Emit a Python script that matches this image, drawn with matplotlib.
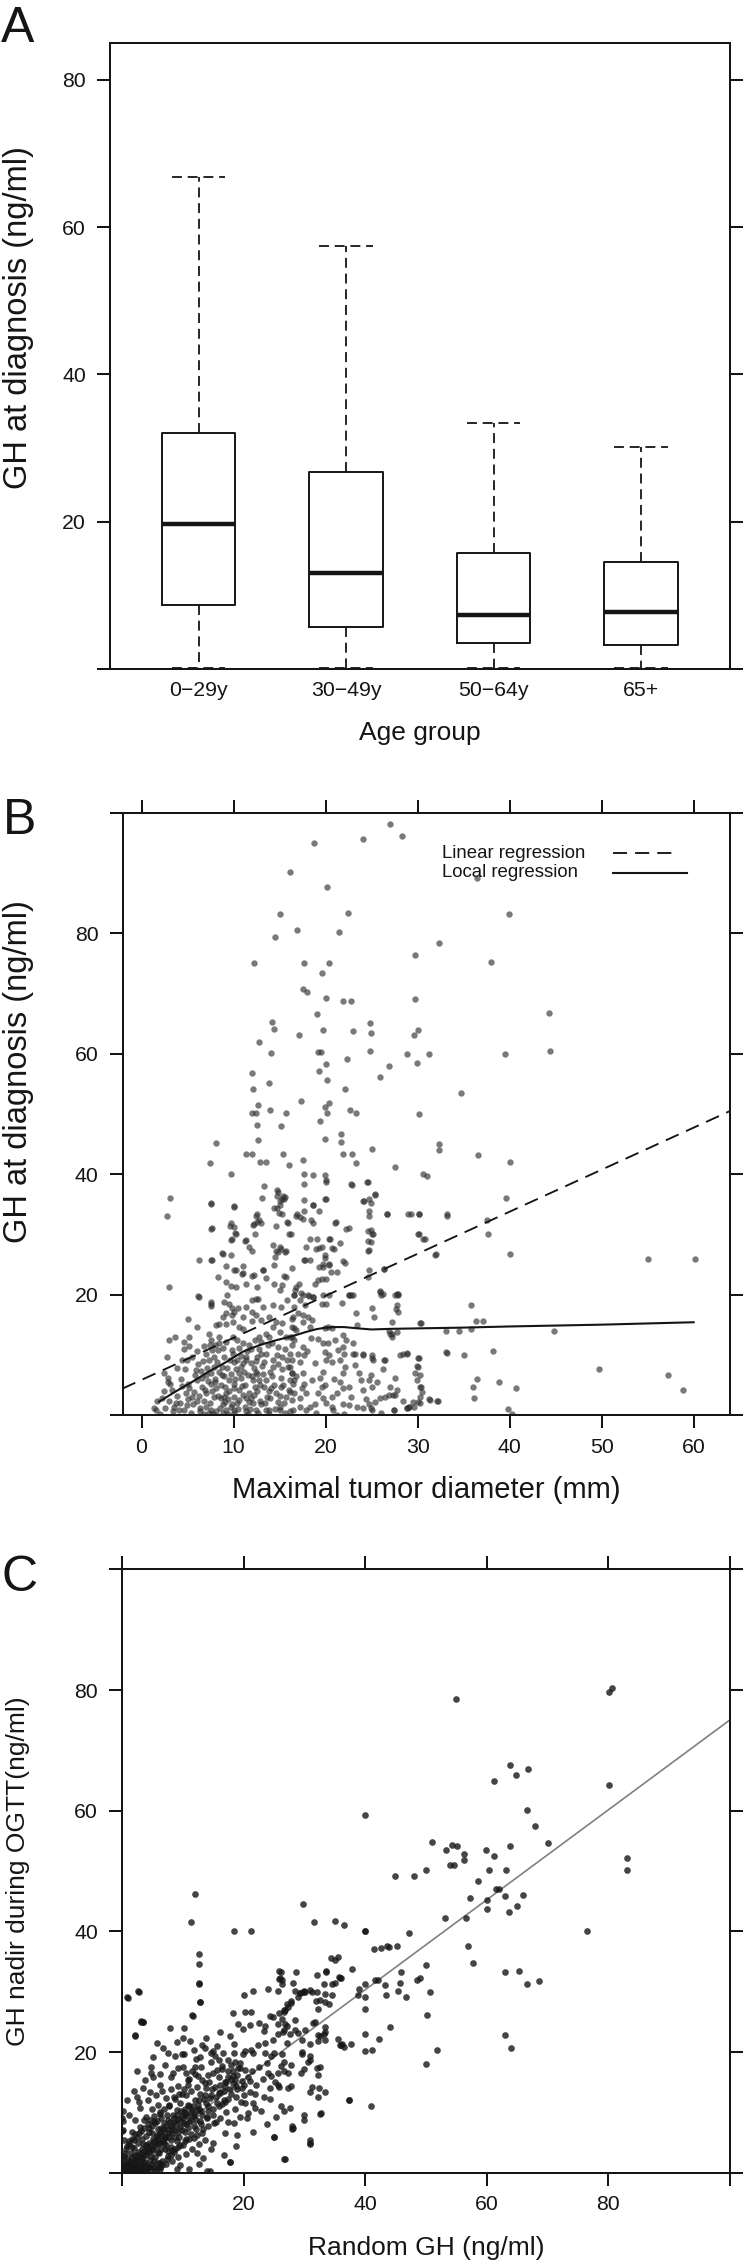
import numpy as np
import matplotlib.pyplot as plt

plt.rcParams['font.family'] = ['Liberation Sans', 'DejaVu Sans']

# ---- panel A: GH at diagnosis by age group (box stats)
age_groups = ['0\u221229y', '30\u221249y', '50\u221264y', '65+']
a_whislo = [0.2, 0.15, 0.1, 0.2]
a_q1 = [8.65, 5.7, 3.55, 3.25]
a_med = [19.7, 13.1, 7.3, 7.7]
a_q3 = [32.1, 26.8, 15.8, 14.5]
a_whishi = [66.8, 57.5, 33.4, 30.1]

# ---- panel B: tumor diameter (mm) vs GH at diagnosis (ng/ml)
b_sparse = [(27.0,98.2),(28.3,96.2),(18.7,94.9),(24.1,95.7),(16.1,90.2),(20.2,87.7),(36.5,89.2),(15.0,83.1),(22.4,83.4),(39.9,83.1),
    (14.5,79.4),(16.9,80.6),(21.5,80.2),(32.3,78.3),(12.2,75.0),(17.7,75.1),(20.4,75.1),(29.7,76.4),(38.0,75.2),(19.6,73.4),
    (17.6,70.8),(18.0,70.2),(20.1,69.3),(21.9,68.7),(22.8,68.7),(29.7,69.1),(44.3,66.8),(19.1,66.6),(14.4,64.1),(14.2,65.3),
    (17.1,63.1),(19.7,63.9),(12.8,61.9),(23.0,63.7),(24.8,65.1),(24.9,63.4),(29.6,63.1),(30.0,63.9),(14.1,60.1),(19.2,60.3),
    (19.5,60.2),(20.0,58.3),(24.8,60.5),(29.9,58.5),(28.8,60.0),(31.2,60.0),(39.5,60.0),(44.4,60.4),(22.3,59.1),(26.9,58.0),
    (19.3,57.1),(12.0,56.7),(20.2,55.7),(25.9,56.2),(13.8,55.1),(12.1,54.2),(22.1,54.1),(34.7,53.4),(20.4,51.8),(17.3,52.1),
    (12.7,51.4),(19.9,51.1),(14.0,50.6),(22.7,50.7),(23.3,50.1),(12.0,50.1),(12.4,50.1),(15.7,50.2),(20.2,50.1),(30.2,50.0),
    (12.5,48.2),(15.2,48.0),(19.4,48.8),(12.7,45.6),(8.1,45.1),(19.9,45.8),(21.7,46.6),(21.7,45.4),(25.1,44.2),(32.3,45.0),
    (32.3,44.0),(11.3,43.4),(12.0,43.4),(15.4,43.4),(21.9,43.4),(22.9,43.4),(36.6,43.2),(7.4,41.9),(12.9,42.0),(13.5,42.0),
    (16.0,41.5),(17.5,42.3),(23.3,41.8),(40.0,42.0),(9.7,40.0),(17.7,40.0),(18.6,39.9),(19.9,39.9),(20.0,39.1),(30.6,40.0),
    (31.0,39.7),(27.6,41.1),(13.3,38.0),(22.9,38.2),(14.7,37.3),(14.7,36.3),(15.4,36.3),(24.5,38.7),(25.4,36.7),(24.7,35.8),
    (24.1,35.6),(39.6,36.0),(3.1,36.1),(7.5,35.2),(13.1,36.0),(17.7,35.7),(18.6,34.9),(20.0,35.9),(10.1,34.7),(15.1,35.6),
    (15.5,35.9),(14.4,34.4),(14.9,33.6),(2.8,33.1),(7.7,31.1),(12.5,33.4),(12.8,32.3),(12.2,31.7),(16.9,33.3),(17.2,32.9),
    (18.4,32.4),(21.1,32.0),(26.7,33.4),(29.0,33.4),(30.1,33.4),(33.2,33.4),(37.5,32.4),(37.7,30.0),(24.9,30.7),(25.2,30.0),
    (22.5,31.1),(14.6,31.3),(15.8,32.1),(11.2,28.9),(9.6,31.3),(10.2,30.2),(9.7,29.0),(16.2,30.1),(19.1,29.2),(20.4,29.2),
    (30.0,30.0),(30.6,29.2),(24.6,28.9),(31.9,26.6),(40.0,26.7),(55.0,25.9),(60.1,25.9),(6.2,25.8),(7.7,25.8),(8.7,26.9),
    (9.7,26.6),(14.6,27.2),(15.0,27.9),(15.6,27.0),(17.8,25.7),(19.3,27.8),(20.7,27.7),(19.9,26.6),(21.9,25.6),(24.7,27.4),
    (26.3,24.3),(3.0,21.3),(6.1,19.7),(7.6,18.8),(9.2,22.0),(9.3,20.0),(10.3,24.1),(10.9,23.4),(12.0,23.0),(13.2,24.1),
    (14.4,24.9),(15.5,23.1),(17.1,21.8),(17.3,20.2),(18.2,19.7),(18.8,21.8),(19.7,25.0),(20.4,25.0),(20.6,23.7),(21.2,23.7),
    (22.5,20.0),(22.8,20.0),(25.9,20.6),(26.2,20.1),(27.5,20.0),(27.9,20.0),(27.7,17.6),(27.2,15.4),(30.3,15.2),(35.8,18.2),
    (36.3,15.6),(37.1,15.6),(33.1,14.0),(34.5,14.0),(35.8,14.2),(44.8,14.0),(26.9,13.9),(27.2,13.4),(23.4,15.0),(33.1,10.4),
    (35.0,9.9),(38.2,10.6),(28.4,10.1),(28.8,10.2),(30.0,9.5),(29.9,8.1),(24.1,10.1),(25.0,9.5),(23.0,10.1),(26.4,9.2),
    (49.7,7.6),(57.2,6.6),(58.8,4.1),(36.5,6.0),(36.0,4.6),(38.9,5.5),(40.7,4.5),(36.1,2.9),(39.8,1.0),(40.3,0.2),
    (31.2,2.7),(32.1,2.4),(30.3,6.6),(30.3,4.6),(30.3,2.0),(29.5,2.2),(29.1,1.4),(28.8,1.1),(27.4,0.9),(26.9,3.3),(27.6,3.4)]

b_mid = [(7.6,35.1),(10.1,34.6),(7.6,30.9),(14.8,37.1),(15.3,35.9),(15.6,36.2),(15.0,34.8),(14.7,34.3),(15.3,33.4),
    (12.4,33.0),(12.6,32.0),(12.1,31.5),(13.0,31.8),(9.7,31.9),(10.1,31.2),(10.3,30.1),(9.8,29.3),(12.3,30.0),(11.3,29.0),
    (11.7,27.9),(12.0,27.3),(14.3,28.2),(14.8,27.1),(15.2,27.6),(14.5,26.2),(15.7,27.3),(16.0,30.1),(15.9,31.8),(7.6,25.7),
    (8.8,26.8),(9.2,24.7),(10.1,24.1),(11.0,24.7),(11.0,23.5),(12.2,23.2),(13.2,24.0),(13.5,22.7),(14.4,21.8),(15.1,20.7),
    (15.7,22.9),(15.3,21.6),(16.4,24.4),(16.7,20.7),(8.3,22.9),(9.7,21.4),(10.3,21.3),(11.3,21.8),(12.6,21.3),
    (17.7,38.4),(20.0,38.7),(22.8,38.3),(24.6,38.7),(25.4,36.5),(24.2,35.5),(24.9,35.2),(24.7,33.9),(24.7,33.1),(26.7,33.3),
    (29.3,33.3),(30.2,33.3),(33.2,33.1),(16.8,33.1),(17.5,32.6),(18.6,34.8),(19.3,33.9),(17.7,33.9),(18.6,31.9),(19.9,35.9),
    (21.0,31.9),(22.2,30.9),(24.6,30.6),(25.0,30.1),(24.9,28.7),(24.6,27.3),(30.1,30.0),(30.8,29.3),(32.0,26.7),(18.3,29.3),
    (17.9,27.9),(19.0,27.6),(19.6,27.9),(20.5,29.3),(21.6,28.6),(20.9,27.5),(17.7,25.8),(18.3,25.8),(19.9,26.0),(19.7,24.6),
    (20.4,24.9),(22.1,25.2),(19.3,24.5),(19.2,22.4),(19.6,22.6),(20.1,22.6),(24.7,24.1),(26.3,24.3),(24.6,22.9),(16.8,21.3),
    (16.6,19.9),(17.6,19.9),(18.6,19.6),(19.7,19.9),(20.4,19.9),(22.5,19.9),(23.0,19.9),(25.9,20.4),(26.0,19.9),(27.8,20.1),
    (27.9,20.1),(27.8,18.2),(27.9,17.1),(21.8,18.6)]

b_dense_left = [(6.2,19.6),(7.6,18.5),(7.6,18.1),(9.0,18.7),(9.5,18.4),(9.8,17.7),(11.3,18.0),(12.0,19.1),(12.4,19.2),(12.7,19.2),
    (13.2,18.0),(14.3,18.3),(15.2,18.0),(15.8,19.1),(16.6,19.9),(9.2,16.9),(9.8,16.6),(10.1,17.1),(11.0,16.3),(12.0,17.1),
    (12.4,16.6),(13.0,15.7),(13.9,16.3),(14.6,15.5),(15.3,15.2),(16.3,16.0),(8.1,14.9),(8.4,15.1),(9.2,15.1),(9.9,15.5),
    (10.6,14.6),(4.6,12.2),(5.2,13.0),(7.3,13.4),(8.4,13.0),(9.2,12.2),(9.9,13.0),(10.4,12.4),(11.0,11.9),(11.7,11.6),
    (12.3,12.4),(12.8,13.0),(13.5,13.4),(14.3,14.6),(15.0,13.8),(15.7,13.0),(16.1,10.2),(16.4,9.1),(4.4,9.2),(4.9,9.2),
    (5.9,7.5),(6.5,7.3),(2.9,6.2),(3.1,5.1),(2.9,5.4),(1.7,2.3),(1.6,0.8),(3.5,1.4),(4.1,0.9),(4.6,0.8),
    (4.8,3.6),(5.0,2.6),(5.5,3.0),(7.0,10.2),(7.3,9.1),(7.9,9.7),(8.3,10.8),(7.5,6.9),(7.9,8.0),(8.4,7.2),
    (9.0,6.4),(6.6,4.7),(7.0,3.6),(7.5,5.2),(8.1,4.4),(8.6,2.8),(9.2,3.6),(7.0,1.4),(7.5,0.8),(8.1,0.6),
    (8.8,1.9),(9.2,0.8),(9.7,1.4),(10.1,0.3),(9.9,10.2),(10.4,9.1),(10.8,8.0),(11.3,9.7),(11.9,8.6),(12.4,7.2),
    (9.5,5.8),(10.1,5.2),(10.6,4.1),(11.2,5.0),(11.7,3.6),(12.3,4.7),(12.8,5.8),(10.6,2.5),(11.2,1.4),(11.7,2.2),
    (12.4,0.8),(13.0,1.9),(13.5,0.8),(13.5,10.2),(14.3,9.1),(14.8,11.3),(15.3,9.7),(15.9,8.0),(16.4,6.9),(16.6,5.8),
    (13.5,5.8),(14.1,4.4),(14.6,3.6),(15.2,4.7),(15.7,3.0),(16.3,2.5),(13.9,0.8),(15.0,1.4),(16.1,0.7),(16.3,13.0),
    (16.6,14.4),(13.0,10.2),(13.3,8.8),(12.6,9.7),(12.1,5.8),
    (5.2,4.4),(5.6,1.8),(6.0,5.8),(6.2,3.2),(6.4,0.6),(6.8,2.4),(7.2,5.6),(7.4,2.0),(7.7,4.0),(8.0,6.0),
    (8.3,3.2),(8.6,5.0),(8.9,0.4),(9.1,4.6),(9.4,2.6),(9.7,6.8),(10.0,3.0),(10.3,7.6),(10.5,1.0),(10.8,6.2),
    (11.0,3.4),(11.3,0.6),(11.6,6.6),(11.9,2.8),(12.2,7.8),(12.5,4.0),(12.9,2.4),(13.2,6.8),(13.6,3.0),(14.0,7.2),
    (14.4,5.0),(14.8,2.2),(15.2,6.2),(15.6,0.4),(16.0,4.2),(4.2,2.0),(3.8,3.2),(4.4,4.8),(5.8,6.6),(6.6,6.2),
    (3.4,0.6),(2.6,1.2),(2.2,2.8),(5.4,0.4),(7.8,0.2),(9.8,1.8),(11.4,9.2),(10.0,8.8),(9.0,9.6),(8.0,11.6),
    (6.8,11.4),(7.6,12.4),(12.8,11.0),(14.2,12.0),(15.6,11.0),(14.8,8.4),(13.9,13.0),(11.0,14.2),(12.0,15.6),(8.8,16.2),
    (10.5,17.8),(6.0,14.6),(5.0,16.0),(3.6,13.0),(4.6,11.0),(3.0,12.4),(2.8,9.6),(2.4,7.0),(1.4,1.2),(2.0,0.2),(3.0,2.4)]

b_dense_extra = [(4.3,6.0),(4.7,7.6),(5.1,5.2),(5.5,9.6),(5.7,3.8),(6.1,8.4),(6.3,1.2),(6.7,9.0),(6.9,4.2),(7.1,7.8),
    (7.3,0.4),(7.7,10.8),(7.9,3.0),(8.2,8.8),(8.5,1.2),(8.7,6.6),(8.9,11.2),(9.1,2.2),(9.3,7.8),(9.5,4.0),
    (9.8,10.8),(10.0,0.8),(10.2,6.0),(10.4,2.0),(10.6,11.2),(10.9,4.8),(11.1,7.2),(11.3,2.8),(11.5,10.6),(11.8,1.0),
    (12.0,6.4),(12.2,3.4),(12.4,9.0),(12.7,0.4),(12.9,5.0),(13.1,8.2),(13.4,2.0),(13.7,11.6),(13.9,4.0),(14.2,6.4),
    (14.5,1.0),(14.7,10.0),(15.0,3.2),(15.3,7.6),(15.5,2.0),(15.8,9.2),(16.1,3.8),(16.4,11.6),(8.4,12.0),(9.6,9.2),
    (10.8,9.8),(11.9,11.0),(13.0,12.2),(6.0,10.6),(5.2,11.4),(3.9,7.8),(3.3,4.2),(2.4,4.0),(3.7,2.0),(4.9,1.6),
    (6.0,2.4),(7.0,6.6),(8.0,5.4),(9.0,3.0),(10.1,4.4),(11.0,8.6),(12.1,2.0),(13.3,4.6),(14.3,8.0),(15.4,5.0),
    (9.4,0.2),(11.6,0.2),(13.8,0.2),(6.8,0.2),(12.6,6.8),(10.6,7.0),(8.7,8.0),(7.4,11.6),(14.0,2.8),(15.1,0.8),
    (17.4,4.4),(18.0,10.6),(18.8,8.6),(19.4,6.2),(20.0,2.0),(20.9,6.0),(21.4,10.8),(22.8,3.0),(23.6,7.0),(24.4,2.6),
    (25.6,5.4),(26.2,7.6),(27.6,6.2),(28.4,2.4),(19.0,0.4),(22.0,0.2),(26.0,0.4),(18.4,12.8),(21.0,12.4),(23.0,12.0)]

b_dense_right = [(16.6,18.0),(17.2,19.1),(18.1,19.9),(18.6,19.6),(17.8,18.2),(16.5,16.3),(17.0,16.9),(17.6,16.6),(18.1,16.3),(18.5,15.7),
    (19.6,18.5),(20.1,18.4),(16.3,14.6),(16.8,14.1),(17.6,15.5),(18.3,14.6),(19.9,14.4),(20.3,14.6),(20.7,14.4),(16.1,13.0),
    (16.6,12.4),(17.6,11.3),(17.0,10.2),(17.7,9.9),(17.2,8.8),(19.2,12.7),(19.7,11.9),(20.3,11.9),(19.9,10.5),(20.4,9.9),
    (20.1,9.1),(20.7,8.8),(19.7,7.2),(21.9,13.3),(22.2,12.4),(21.9,11.3),(22.0,10.2),(21.6,9.1),(22.1,8.0),(21.9,6.9),
    (23.3,16.9),(25.0,17.7),(25.3,16.2),(23.2,10.2),(24.1,9.9),(25.0,9.9),(25.2,9.1),(23.2,8.3),(26.5,9.1),(27.0,13.5),
    (27.2,13.0),(27.8,13.8),(28.1,9.9),(28.8,10.3),(30.4,15.3),(33.2,10.3),(30.1,9.4),(30.0,8.0),(29.7,6.9),(29.9,5.8),
    (30.4,4.7),(30.5,3.9),(30.3,3.0),(30.0,2.2),(29.6,1.4),(31.4,2.5),(32.2,2.4),(27.0,4.7),(27.8,4.1),(27.3,3.3),
    (26.5,3.0),(25.9,2.8),(25.4,2.2),(24.7,1.9),(24.1,1.1),(24.9,1.1),(23.4,1.4),(22.5,1.7),(21.9,1.9),(20.8,0.8),
    (21.2,0.0),(20.7,1.4),(23.8,5.8),(24.9,6.6),(24.7,5.8),(24.1,4.1),(25.0,4.6),(21.6,5.5),(21.9,4.4),(22.5,4.7),
    (21.2,3.6),(20.7,3.0),(19.9,5.0),(19.6,4.7),(19.7,2.8),(19.2,3.6),(18.8,1.9),(18.3,1.4),(17.9,0.8),(17.2,2.8),
    (16.6,3.6),(16.5,5.2),(16.1,5.8),(16.8,6.4),(17.6,6.9),(17.7,5.2),(18.5,5.8),(17.9,3.6),(17.2,1.4),(16.5,0.8),
    (16.1,8.0),(16.3,6.9),(29.1,1.4),(28.8,1.1),(27.4,0.9),(25.0,0.9)]

loess_x = [1.9, 3.7, 5.5, 7.3, 9.2, 11.0, 12.8, 14.6, 16.4, 17.9, 19.0, 20.0, 21.0, 22.0, 23.4, 25.0, 27.0, 30.7, 34.7, 40.0, 50.0, 60.0]
loess_y = [2.2, 3.9, 5.5, 7.2, 8.8, 10.5, 11.6, 12.4, 13.1, 13.8, 14.25, 14.5, 14.6, 14.6, 14.4, 14.2, 14.3, 14.4, 14.5, 14.7, 15.0, 15.4]
lin_b = (0.698, 5.83)   # slope, intercept

# ---- panel C: random GH vs GH nadir during OGTT
c_sparse = [(54.9,78.6),(80.1,79.6),(80.7,80.3),(80.1,64.2),(40.0,59.3),(63.9,67.6),(64.8,65.9),(66.8,66.9),(61.3,64.9),(66.6,60.2),
    (68.0,57.5),(70.2,54.7),(51.0,54.8),(53.4,53.5),(54.3,54.3),(55.1,54.2),(56.3,52.9),(56.3,51.8),(54.0,51.0),(54.6,51.0),
    (59.9,53.5),(61.3,52.5),(63.8,54.1),(83.2,52.2),(83.2,50.2),(50.1,50.2),(60.4,50.2),(63.2,50.2),(45.0,49.2),(48.0,49.2),
    (58.6,48.3),(61.6,47.0),(62.1,47.0),(66.0,46.1),(57.3,45.5),(60.0,45.2),(60.0,43.7),(63.0,45.8),(65.1,44.2),(63.7,43.2),
    (29.8,44.6),(12.0,46.2),(53.2,42.2),(56.6,42.2),(11.3,41.5),(31.6,41.5),(35.0,41.8),(36.6,41.1),(18.4,40.1),(21.2,40.1),
    (40.0,40.1),(40.0,40.0),(76.5,40.1),(47.3,39.7),(42.6,37.3),(44.0,37.4),(45.3,37.5),(57.0,37.5),(57.7,34.8),(34.4,35.6),
    (35.5,35.7),(12.7,36.2),(12.7,34.6),(12.7,31.4),(12.9,28.3),(11.6,26.2),(2.7,30.1),(0.8,29.2),(3.2,25.0),(3.5,25.0),
    (2.1,22.8),(65.4,33.5),(63.1,33.3),(66.6,31.2),(68.7,31.7),(63.1,22.9),(64.1,20.6),(50.1,18.0),(51.8,20.4),(50.2,26.1),
    (50.7,29.9),(50.1,34.5),(48.6,31.9),(49.0,32.2),(46.8,29.1),(45.5,30.2),(45.8,31.5),(46.0,33.3),(43.3,31.1),(43.4,29.5),
    (44.1,24.2),(42.3,22.1),(41.1,20.3),(41.5,37.1),(43.6,37.5),(41.7,32.0),(42.1,32.0),(40.0,31.3),(40.0,29.2),(40.0,27.2),
    (40.0,23.0),(40.0,20.1),(39.0,30.5),(38.8,29.5),(41.0,11.0),(37.3,12.1),(37.7,21.4),(36.2,21.3),(35.9,21.1),(35.5,22.2),
    (37.8,33.8),(35.1,31.5),(35.8,32.5),(36.0,32.3),(33.5,33.5),(33.2,31.2),(33.4,29.6),(33.4,28.3),(33.4,24.2),(33.2,23.0),
    (32.0,28.5),(31.8,25.0),(32.2,22.9),(32.6,17.5),(32.4,14.0),(32.6,9.7),(30.9,30.3),(29.9,30.2),(29.3,29.8),(29.0,29.2),
    (27.9,28.5),(27.1,27.9),(26.6,27.0),(26.7,26.6),(26.9,24.6),(26.5,23.3),(25.6,24.6),(25.9,33.5),(25.8,32.1),(26.4,31.9),
    (28.2,31.4),(28.4,30.2),(27.7,23.0),(27.2,21.5),(26.6,16.9),(25.9,14.2),(26.7,10.3),(29.7,20.0),(30.6,18.3),(30.0,17.2),
    (31.3,14.2),(29.9,9.5),(28.0,7.8),(31.0,5.4),(25.0,5.9),(26.7,2.2),(30.9,4.8),(28.0,7.3),(17.7,1.7),(14.0,0.2),
    (6.2,0.6),(6.3,1.6),(9.1,0.6),(0.0,9.0),(0.0,6.9)]

c_mid = [(12.7,31.3),(12.9,28.3),(1.0,29.0),(2.8,30.0),(3.1,25.2),(3.5,25.0),(2.1,22.6),(11.7,26.0),(20.1,29.4),(21.5,30.1),
    (18.2,26.4),(20.2,26.6),(21.3,26.6),(19.1,24.7),(19.9,23.8),(21.1,24.4),(7.9,24.0),(10.2,24.0),(10.1,22.4),(5.7,21.5),
    (7.6,19.8),(8.7,19.4),(9.8,19.6),(10.2,19.7),(5.1,19.2),(11.9,20.4),(13.2,21.2),(13.6,20.6),(14.7,19.9),(15.0,20.2),
    (12.1,18.8),(12.8,19.2),(10.1,17.6),(12.0,17.6),(15.3,19.3),(15.9,18.7),(16.4,17.7),(17.5,18.7),(18.6,18.4),(19.1,17.3),
    (18.5,19.9),(19.9,19.6),(21.2,20.3),(21.6,19.9),(4.7,16.6),(5.1,15.8),(8.0,15.8),(6.3,14.6),(10.6,16.5),(10.9,15.3),
    (12.5,16.0),(14.1,16.2),(13.6,14.8),(15.6,17.1),(16.9,15.1),(18.3,16.0),(18.6,15.4),(19.7,14.0),(20.1,12.9),(21.0,13.3),
    (21.9,13.1),(21.5,11.5),(21.9,10.7),(23.4,12.5),(20.2,11.6),(20.7,9.9),(19.4,9.2),(18.4,8.3),(17.5,8.4),(16.9,6.5),
    (18.8,4.4),(17.7,1.8),(14.5,0.3),(13.4,2.4),(15.0,5.0),(14.6,3.9),(23.5,21.5),(24.9,22.0),(25.6,23.0),(26.6,23.6),
    (27.1,24.3),(28.4,23.6),(29.0,23.2),(30.1,23.7),(29.7,22.0),(30.9,21.4),(32.2,21.8),(32.6,22.6),(33.4,22.0),(33.4,23.4),
    (31.4,24.8),(32.3,27.1),(28.5,25.3),(26.8,26.9),(27.4,27.4),(27.9,28.1),(25.8,26.5),(26.4,25.5),(24.9,25.8),(23.5,24.3),
    (24.3,25.9),(23.4,23.5),(22.5,24.8),(18.5,21.4),(20.2,20.1),(22.4,21.2),(23.5,19.9),(24.5,19.3),(25.0,19.8),(26.3,19.6),
    (26.7,18.4),(26.1,17.7),(27.4,16.5),(27.9,17.9),(25.7,16.5),(24.6,16.0),(24.1,16.6),(25.2,15.1),(25.7,14.6),(27.4,14.0),
    (27.9,14.3),(29.5,16.6),(30.9,18.7),(29.6,19.6),(31.0,19.3),(32.1,17.3),(32.3,16.2),(30.9,13.3),(32.3,12.6),(33.4,13.4),
    (32.7,9.9),(29.9,8.8),(28.2,7.4),(25.1,6.0),(26.8,2.2),(31.0,5.0),(26.2,11.0),(27.6,10.8),(37.3,12.1),(36.0,21.2),
    (36.5,20.8),(24.1,30.4),(26.2,33.2),(26.0,32.3),(26.3,31.3),(28.7,33.2),(29.3,29.8),(29.8,30.0),(30.2,30.0),(31.2,30.0),
    (32.1,30.0),(32.1,32.7),(33.5,33.2),(34.5,31.3),(35.9,32.3),(35.1,35.2),(34.5,29.5),(34.1,28.0),(32.6,28.7),(25.7,30.1)]

c_dense = [(2.5,12.6),(3.0,10.8),(3.5,14.0),(4.0,9.2),(4.2,12.0),(4.6,13.4),(5.0,10.5),(5.3,8.6),(5.6,12.8),(6.0,11.2),
    (6.3,9.8),(6.6,13.6),(6.9,10.6),(7.2,12.4),(7.5,8.8),(7.8,11.0),(8.1,13.9),(8.4,9.6),(8.7,12.2),(9.0,10.4),
    (9.3,14.4),(9.6,11.6),(9.9,13.0),(10.2,10.0),(10.5,12.8),(10.8,14.6),(11.1,11.0),(11.4,13.6),(11.7,9.4),(12.0,12.0),
    (12.3,14.2),(12.6,10.6),(12.9,13.0),(13.2,15.4),(13.5,12.2),(13.8,14.0),(14.1,10.2),(14.4,15.0),(14.7,12.8),(15.0,16.6),
    (15.3,14.2),(15.6,11.6),(15.9,15.8),(16.2,13.4),(16.5,17.2),(16.8,12.0),(17.1,15.0),(17.4,16.8),(17.7,13.8),(18.0,17.8),
    (18.3,14.8),(18.7,12.6),(19.0,16.2),(19.4,18.2),(19.8,15.2),(20.3,17.0),(20.8,15.8),(21.4,16.8),(22.0,14.6),(22.6,17.6),
    (23.2,15.6),(23.8,18.2),(24.4,14.0),(3.0,7.6),(3.6,8.8),(4.4,6.8),(5.0,7.8),(5.8,6.2),(6.4,7.4),(7.0,5.8),
    (1.6,6.8),(2.2,8.8),(1.2,9.6),(2.8,11.8),(0.8,12.0),(1.9,13.6),(3.8,15.4),(2.4,16.8),(4.8,17.6),(6.2,16.4),
    (7.0,17.8),(8.4,16.6),(9.2,17.4),(11.6,16.8),(13.0,17.6),(14.6,18.4),(16.6,19.8),(6.8,20.6),(9.0,21.6),(11.2,21.8),
    (13.8,22.4),(15.6,21.0),(17.8,22.6),(16.2,23.4),(8.2,3.8),(9.2,4.2),(10.4,5.2),(11.8,5.8),(12.4,3.2),(13.2,6.6),
    (14.2,7.8),(15.2,8.2),(16.2,9.0),(17.2,10.0),(18.6,10.6),(19.6,11.8),(20.6,9.0),(22.8,10.2),(23.8,8.0),(25.4,9.2),
    (9.6,1.2),(11.0,0.6),(12.6,1.4),(16.8,3.0),(19.0,6.2),(21.6,6.8),(24.4,12.2)]

c_corner = [(0.3,0.2),(0.5,0.8),(0.8,0.4),(1.0,1.2),(1.2,0.6),(1.5,1.8),(1.6,0.3),(1.8,1.0),(2.0,2.2),(2.1,0.7),
    (2.3,1.5),(2.5,2.8),(2.6,0.4),(2.8,1.9),(3.0,3.1),(3.1,1.2),(3.3,2.4),(3.5,0.6),(3.6,3.6),(3.8,1.7),
    (4.0,2.9),(4.1,4.2),(4.3,0.9),(4.5,3.4),(4.6,2.1),(4.8,4.6),(5.0,1.4),(5.1,3.8),(5.3,5.2),(5.5,2.6),
    (5.6,4.4),(5.8,0.8),(6.0,5.6),(6.1,3.2),(6.3,4.9),(6.5,6.3),(6.6,2.0),(6.8,5.4),(7.0,3.9),(7.1,6.8),
    (7.3,4.6),(7.5,7.3),(7.6,2.8),(7.8,5.9),(8.0,7.8),(8.1,4.2),(8.3,6.5),(8.5,8.4),(8.6,3.4),(8.8,7.1),
    (9.0,5.2),(9.2,8.9),(9.4,6.0),(9.6,7.6),(9.8,9.4),(10.0,4.6),(10.2,8.2),(10.4,6.8),(10.6,9.8),(10.8,7.4),
    (11.0,5.6),(11.3,8.8),(11.5,10.4),(11.8,7.8),(12.0,9.6),(12.3,6.2),(12.5,11.2),(12.8,8.6),(13.0,10.2),(13.4,7.2),
    (13.8,11.6),(14.0,9.2),(14.5,12.4),(15.0,10.6),(15.5,8.4),(16.0,13.2),(16.4,11.4),(17.0,14.2),(17.5,12.2),(18.0,15.6),
    (0.2,1.6),(0.4,2.8),(0.6,3.9),(0.9,2.4),(1.1,4.8),(1.4,3.3),(1.7,5.6),(2.0,4.1),(2.2,6.4),(2.7,5.0),
    (3.2,6.9),(3.4,4.8),(3.9,6.1),(4.4,7.4),(4.9,6.6),(5.4,8.2),(5.9,7.2),(6.4,9.0),(6.9,8.3),(7.4,9.6),
    (0.1,0.5),(0.3,1.1),(0.7,0.1),(1.3,0.1),(1.9,0.2),(2.4,0.1),(3.2,0.3),(4.0,0.2),(4.7,0.4),(5.4,0.3),
    (6.2,0.9),(7.2,1.4),(8.2,1.9),(9.3,2.6),(10.5,3.1),(11.6,4.0),(12.6,4.8),(13.6,5.4),(0.1,8.5),(0.1,7.1),
    (0.4,5.5),(0.2,10.2)]

c_corner_extra = [(0.4,0.4),(0.6,1.4),(0.9,0.9),(1.1,2.0),(1.3,1.5),(1.5,0.7),(1.7,2.6),(1.9,1.6),(2.1,3.0),(2.3,0.9),
    (2.5,2.1),(2.7,3.5),(2.9,1.2),(3.1,2.6),(3.3,4.0),(3.5,1.8),(3.7,3.0),(3.9,4.6),(4.1,1.2),(4.3,3.8),
    (4.5,5.0),(4.7,2.8),(4.9,4.0),(5.1,5.6),(5.3,2.0),(5.5,4.8),(5.7,6.0),(5.9,3.4),(6.1,5.0),(6.3,6.6),
    (6.5,4.0),(6.7,7.2),(6.9,5.0),(7.1,6.0),(7.3,7.8),(7.5,3.6),(7.7,6.6),(7.9,8.4),(8.1,5.4),(8.3,7.4),
    (8.5,9.0),(8.7,6.0),(8.9,8.0),(9.1,9.6),(9.3,6.8),(9.5,8.6),(9.7,10.2),(9.9,7.0),(10.1,9.0),(10.3,10.6),
    (10.5,8.0),(10.7,9.4),(10.9,11.2),(11.1,8.4),(11.3,10.0),(11.7,11.0),(12.1,8.8),(12.4,10.4),(12.7,12.0),(13.2,9.6),
    (13.6,12.8),(14.2,11.0),(14.8,13.8),(15.4,12.6),(16.2,14.6),(16.8,13.6),(17.4,15.8),(18.2,16.8),(18.8,14.4),(19.4,17.4),
    (0.2,2.2),(0.5,3.2),(0.8,4.4),(1.2,5.2),(1.6,4.2),(2.0,5.4),(2.4,6.0),(2.8,6.6),(3.3,5.6),(3.6,7.4),
    (4.2,8.0),(4.6,8.8),(5.2,9.4),(5.8,8.6),(6.2,10.0),(0.5,0.1),(1.0,0.3),(1.6,0.9),(2.2,1.0),(2.8,0.5),
    (3.4,1.0),(3.9,0.5),(4.6,1.0),(5.2,1.0),(5.9,1.6),(6.6,1.2),(7.4,2.2),(8.0,3.0),(8.8,4.0),(9.6,4.6),
    (10.6,5.6),(11.4,6.4),(12.2,7.2),(13.0,8.0),(14.0,9.0),(15.0,9.6),(16.0,11.0),(17.0,11.8),(18.0,13.0),(19.0,13.8),
    (20.0,14.6),(21.0,15.2),(7.8,11.2),(8.6,12.6),(9.4,13.0),(10.2,13.8),(11.0,15.6),(12.0,16.4)]

lin_c = (0.745, 0.5)

# ---------------------------------------------------------------- layout
W, H = 744.0, 2267.0
fig = plt.figure(figsize=(W / 100, H / 100), dpi=100)


def px_box(l, t, r, b):
    return [l / W, 1 - b / H, (r - l) / W, (b - t) / H]


axA = fig.add_axes(px_box(110, 43, 729.5, 669))
axB = fig.add_axes(px_box(122.5, 812.7, 729.5, 1415))
axC = fig.add_axes(px_box(122, 1569.4, 729.5, 2172.7))

ink = '#151515'
tick_len = 9.4
lw_frame = 1.45
for ax in (axA, axB, axC):
    for s in ax.spines.values():
        s.set_linewidth(lw_frame)
        s.set_color(ink)
    ax.tick_params(which='both', direction='out', length=tick_len, width=lw_frame,
                   colors=ink, labelsize=15.3)

# ---- A
stats = []
for i, g in enumerate(age_groups):
    stats.append(dict(label=g, whislo=a_whislo[i], q1=a_q1[i], med=a_med[i],
                      q3=a_q3[i], whishi=a_whishi[i]))
dash = (0, (5.5, 3.2))
axA.bxp(stats, positions=[1, 2, 3, 4], widths=0.5, showfliers=False, capwidths=0.36,
        boxprops=dict(color=ink, lw=1.4),
        whiskerprops=dict(color=ink, lw=1.3, linestyle=dash),
        capprops=dict(color=ink, lw=1.3, linestyle=dash),
        medianprops=dict(color=ink, lw=3.2))
axA.set_xlim(0.4, 4.6)
axA.set_ylim(0, 85)
axA.set_yticks([0, 20, 40, 60, 80])
axA.set_yticklabels(['', '20', '40', '60', '80'])
axA.tick_params(axis='y', left=True, right=True, pad=8.0)
axA.tick_params(axis='x', bottom=True, top=False, length=0, pad=9)

# ---- B
b_all = b_sparse + b_mid + b_dense_left + b_dense_extra + b_dense_right
bx = [p[0] for p in b_all]
by = [p[1] for p in b_all]
axB.scatter(bx, by, s=21, color='#2e2e2e', alpha=0.64, linewidths=0, zorder=2)
xlimB = (-2.07, 63.9)
xx = np.array(xlimB)
axB.plot(xx, lin_b[0] * xx + lin_b[1], color=ink, lw=1.35, linestyle=(0, (7.5, 4.3)), zorder=3)
axB.plot(loess_x, loess_y, color=ink, lw=1.5, zorder=3)
axB.set_xlim(*xlimB)
axB.set_ylim(0, 100)
axB.set_xticks([0, 10, 20, 30, 40, 50, 60])
axB.set_yticks([0, 20, 40, 60, 80, 100])
axB.set_yticklabels(['', '20', '40', '60', '80', ''])
axB.tick_params(axis='x', bottom=True, top=True, pad=7)
axB.tick_params(axis='y', left=True, right=True, pad=8.0)
axB.text(32.6, 93.3, 'Linear regression', fontsize=13.4, va='center', ha='left', color=ink)
axB.text(32.6, 90.0, 'Local regression', fontsize=13.4, va='center', ha='left', color=ink)
axB.plot([51.2, 57.8], [93.3, 93.3], color=ink, lw=1.35, linestyle=(0, (7.5, 4.3)))
axB.plot([51.2, 59.3], [90.0, 90.0], color=ink, lw=1.5)

# ---- C
c_all = c_sparse + c_mid + c_dense + c_corner + c_corner_extra
cx = [p[0] for p in c_all]
cy = [p[1] for p in c_all]
xc = np.array([0.0, 100.0])
axC.plot(xc, lin_c[0] * xc + lin_c[1], color='#808080', lw=1.2, zorder=1)
axC.scatter(cx, cy, s=23, color='#161616', alpha=0.8, linewidths=0, zorder=2)
axC.set_xlim(0, 100)
axC.set_ylim(0, 100)
axC.set_xticks([0, 20, 40, 60, 80, 100])
axC.set_xticklabels(['', '20', '40', '60', '80', ''])
axC.set_yticks([0, 20, 40, 60, 80, 100])
axC.set_yticklabels(['', '20', '40', '60', '80', ''])
axC.tick_params(axis='x', bottom=True, top=True, pad=7)
axC.tick_params(axis='y', left=True, right=True, pad=8.0)

# ---- axis labels and panel letters (pixel positions)
def ftext(x, y, s, **kw):
    fig.text(x / W, 1 - y / H, s, color=ink, **kw)

ftext(420, 733, 'Age group', fontsize=19, ha='center', va='center')
ftext(426, 1490, 'Maximal tumor diameter (mm)', fontsize=21, ha='center', va='center')
ftext(426, 2248, 'Random GH (ng/ml)', fontsize=19, ha='center', va='center')
ftext(19, 318, 'GH at diagnosis (ng/ml)', fontsize=23.5, ha='center', va='center', rotation=90)
ftext(19, 1072, 'GH at diagnosis (ng/ml)', fontsize=23.5, ha='center', va='center', rotation=90)
ftext(18, 1871, 'GH nadir during OGTT(ng/ml)', fontsize=19, ha='center', va='center', rotation=90)

ftext(1, 42, 'A', fontsize=36, ha='left', va='baseline')
ftext(3, 834, 'B', fontsize=36, ha='left', va='baseline')
ftext(2, 1591, 'C', fontsize=36, ha='left', va='baseline')

fig.savefig('out.png', dpi=100)
